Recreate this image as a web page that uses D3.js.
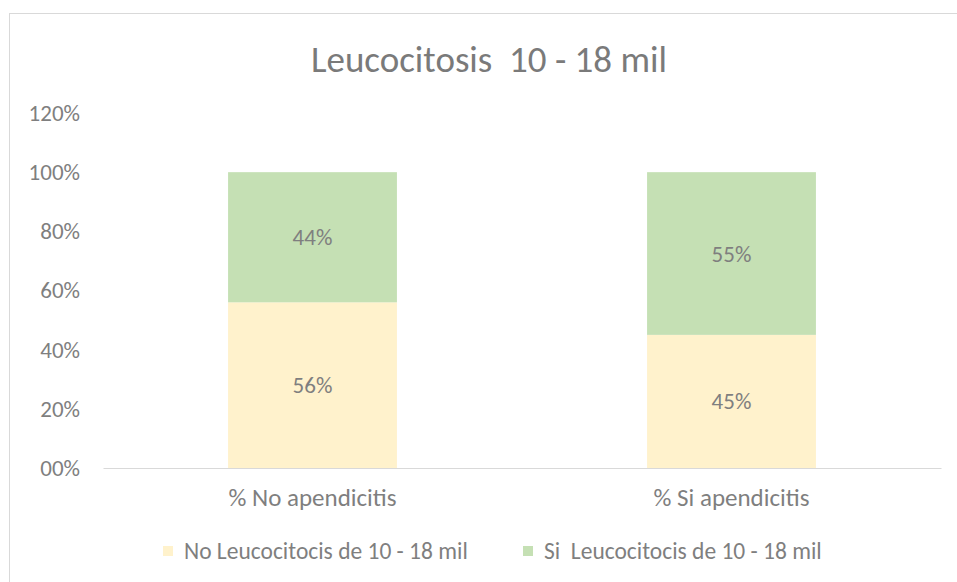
<!DOCTYPE html>
<html>
<head>
<meta charset="utf-8">
<script src="https://cdn.jsdelivr.net/npm/d3@7"></script>
<style>
  body { margin: 0; background: #fff; }
  text { font-family: Carlito, Calibri, Lato, sans-serif; white-space: pre; }
</style>
</head>
<body>
<div id="chart"></div>
<script>
var categories = ["% No apendicitis", "% Si apendicitis"];
var seriesNames = ["No Leucocitocis de 10 - 18 mil", "Si  Leucocitocis de 10 - 18 mil"];
var noLeuco = [0.56, 0.45];
var siLeuco = [0.44, 0.55];
var yTicks = [0, 0.2, 0.4, 0.6, 0.8, 1.0, 1.2];
var colors = ["#fff2cc", "#c5e0b4"];

var width = 957, height = 582;
var margin = {left: 103, right: 16, top: 113, bottom: 114};
var labelSize = "23px";

var svg = d3.select("#chart").append("svg")
    .attr("width", width)
    .attr("height", height);

// chart border, cut off at the right and bottom like the reference
svg.append("rect")
    .attr("x", 9.5).attr("y", 13.5)
    .attr("width", 1000).attr("height", 1000)
    .attr("fill", "none")
    .attr("stroke", "#d9d9d9");

var x = d3.scaleBand()
    .domain(categories)
    .range([margin.left, width - margin.right])
    .paddingInner(0.597)
    .paddingOuter(0.2985);

var y = d3.scaleLinear()
    .domain([0, 1.2])
    .range([height - margin.bottom, margin.top]);

var rows = categories.map(function(c, i) {
    return {cat: c, no: noLeuco[i], si: siLeuco[i]};
});
var stacked = d3.stack().keys(["no", "si"])(rows);

svg.append("text")
    .attr("x", 489).attr("y", 72)
    .attr("text-anchor", "middle")
    .attr("fill", "#7a7a7a")
    .style("font-size", "37px")
    .text("Leucocitosis  10 - 18 mil");

// y axis labels only
var yAxis = svg.append("g")
    .attr("transform", "translate(" + margin.left + ",0)")
    .call(d3.axisLeft(y).tickValues(yTicks).tickSize(0).tickPadding(23)
        .tickFormat(function(d) { return d3.format("02d")(Math.round(d * 100)) + "%"; }));
yAxis.select(".domain").remove();
yAxis.selectAll("text")
    .attr("fill", "#7f7f7f")
    .style("font-size", labelSize);

var groups = svg.selectAll(".series")
    .data(stacked)
    .enter().append("g")
    .attr("class", "series")
    .attr("fill", function(d, i) { return colors[i]; });

groups.selectAll("rect")
    .data(function(d) { return d; })
    .enter().append("rect")
    .attr("x", function(d) { return x(d.data.cat); })
    .attr("y", function(d) { return y(d[1]); })
    .attr("width", x.bandwidth())
    .attr("height", function(d) { return y(d[0]) - y(d[1]); });

groups.selectAll(".lbl")
    .data(function(d) { return d; })
    .enter().append("text")
    .attr("class", "lbl")
    .attr("x", function(d) { return x(d.data.cat) + x.bandwidth() / 2; })
    .attr("y", function(d) { return y((d[0] + d[1]) / 2); })
    .attr("dy", "0.35em")
    .attr("text-anchor", "middle")
    .attr("fill", "#7f7f7f")
    .style("font-size", labelSize)
    .text(function(d) { return Math.round((d[1] - d[0]) * 100) + "%"; });

// x axis baseline and labels
var xAxis = svg.append("g")
    .attr("transform", "translate(0," + (height - margin.bottom) + ")")
    .call(d3.axisBottom(x).tickSize(0).tickPadding(20));
xAxis.select(".domain").attr("stroke", "#d9d9d9");
xAxis.selectAll("text")
    .attr("fill", "#7f7f7f")
    .style("font-size", "25px");

// legend
var legendX = [163, 523];
var legend = svg.selectAll(".legend")
    .data(seriesNames)
    .enter().append("g")
    .attr("class", "legend")
    .attr("transform", function(d, i) { return "translate(" + legendX[i] + ",551)"; });
legend.append("rect")
    .attr("x", 0).attr("y", -5)
    .attr("width", 10).attr("height", 10)
    .attr("fill", function(d, i) { return colors[i]; });
legend.append("text")
    .attr("x", 21).attr("dy", "0.35em")
    .attr("fill", "#7f7f7f")
    .style("font-size", "23.5px")
    .text(function(d) { return d; });
</script>
</body>
</html>
